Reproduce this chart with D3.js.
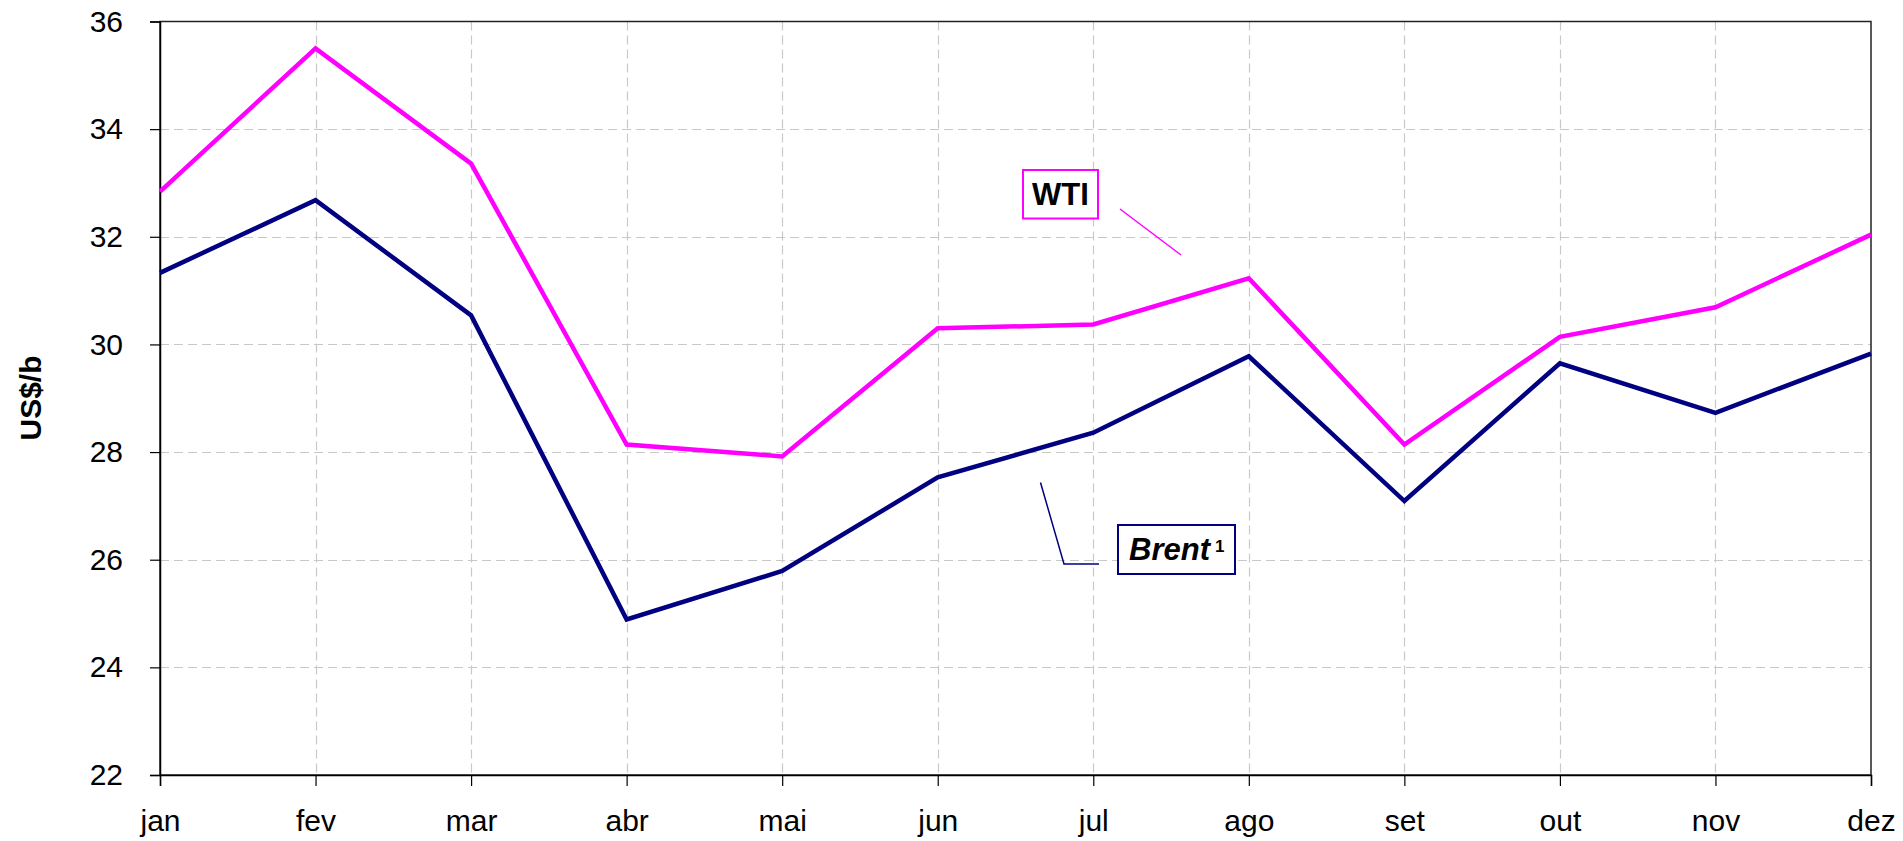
<!DOCTYPE html>
<html>
<head>
<meta charset="utf-8">
<script src="https://cdn.jsdelivr.net/npm/d3@7"></script>
<style>
  html, body { margin: 0; padding: 0; background: #fff; }
  svg { display: block; font-family: "Liberation Sans", Arial, sans-serif; }
</style>
</head>
<body>
<svg id="chart" width="1903" height="841"></svg>
<script>
const months = ["jan","fev","mar","abr","mai","jun","jul","ago","set","out","nov","dez"];
const wti   = [32.84, 35.50, 33.36, 28.14, 27.92, 30.30, 30.37, 31.23, 28.14, 30.14, 30.69, 32.04];
const brent = [31.33, 32.68, 30.54, 24.89, 25.79, 27.53, 28.36, 29.78, 27.09, 29.65, 28.73, 29.83];
const yTicks = [22, 24, 26, 28, 30, 32, 34, 36];
const yLabel = "US$/b";

(function () {
const svg = d3.select("#chart");
const pL = 160, pR = 1871, pT = 21.5, pB = 775;

const x = d3.scalePoint().domain(months).range([pL, pR]);
const y = d3.scaleLinear().domain([22, 36]).range([pB, pT]);

// gridlines
const grid = svg.append("g").attr("stroke", "#c8c8c8").attr("stroke-width", 1.2)
  .attr("stroke-dasharray", "9,5").attr("fill", "none");
grid.selectAll("line.h").data(yTicks.filter(d => d > 22 && d < 36)).enter().append("line")
  .attr("x1", pL).attr("x2", pR)
  .attr("y1", d => Math.round(y(d)) + 0.5).attr("y2", d => Math.round(y(d)) + 0.5);
grid.selectAll("line.v").data(months.slice(1, -1)).enter().append("line")
  .attr("x1", d => Math.round(x(d)) + 0.5).attr("x2", d => Math.round(x(d)) + 0.5)
  .attr("y1", pT).attr("y2", pB);

// frame
svg.append("rect").attr("x", pL).attr("y", pT)
  .attr("width", pR - pL).attr("height", pB - pT)
  .attr("fill", "none").attr("stroke", "#222").attr("stroke-width", 1.5);

// axes
const yAxis = d3.axisLeft(y).tickValues(yTicks).tickSize(10).tickPadding(27);
const gy = svg.append("g").attr("transform", `translate(${pL},0)`).call(yAxis);
gy.select(".domain").attr("stroke", "#000").attr("stroke-width", 1.5);
gy.selectAll(".tick line").attr("stroke", "#000").attr("stroke-width", 1.2);
gy.selectAll(".tick text").attr("font-size", 30).attr("fill", "#000")
  .attr("font-family", "Liberation Sans, Arial, sans-serif");

const xAxis = d3.axisBottom(x).tickSize(11).tickPadding(24);
const gx = svg.append("g").attr("transform", `translate(0,${pB})`).call(xAxis);
gx.select(".domain").attr("stroke", "#000").attr("stroke-width", 1.5);
gx.selectAll(".tick line").attr("stroke", "#000").attr("stroke-width", 1.2);
gx.selectAll(".tick text").attr("font-size", 30).attr("fill", "#000")
  .attr("font-family", "Liberation Sans, Arial, sans-serif");

// y label
svg.append("text")
  .attr("transform", `translate(41,398) rotate(-90)`)
  .attr("text-anchor", "middle")
  .attr("font-size", 30).attr("font-weight", "bold").attr("fill", "#000")
  .text(yLabel);

// lines
const line = d3.line().x((d, i) => x(months[i])).y(d => y(d));
svg.append("path").datum(brent).attr("d", line)
  .attr("fill", "none").attr("stroke", "#000080").attr("stroke-width", 4.5)
  .attr("stroke-linejoin", "miter");
svg.append("path").datum(wti).attr("d", line)
  .attr("fill", "none").attr("stroke", "#FF00FF").attr("stroke-width", 4.5)
  .attr("stroke-linejoin", "miter");

// WTI label
svg.append("line").attr("x1", 1120).attr("y1", 209).attr("x2", 1181).attr("y2", 255)
  .attr("stroke", "#FF00FF").attr("stroke-width", 1.5);
svg.append("rect").attr("x", 1023).attr("y", 170).attr("width", 75).attr("height", 48.5)
  .attr("fill", "#fff").attr("stroke", "#FF00FF").attr("stroke-width", 2);
svg.append("text").attr("x", 1060.5).attr("y", 205).attr("text-anchor", "middle")
  .attr("font-size", 31).attr("font-weight", "bold").attr("fill", "#000").text("WTI");

// Brent label
svg.append("polyline").attr("points", "1040.5,482.5 1064,564 1099,564")
  .attr("fill", "none").attr("stroke", "#000080").attr("stroke-width", 1.5);
svg.append("rect").attr("x", 1118).attr("y", 525).attr("width", 117).attr("height", 49)
  .attr("fill", "#fff").attr("stroke", "#000080").attr("stroke-width", 2);
const bt = svg.append("text").attr("x", 1129).attr("y", 560)
  .attr("font-size", 31).attr("font-weight", "bold").attr("font-style", "italic").attr("fill", "#000");
bt.append("tspan").text("Brent");
bt.append("tspan").attr("font-size", 17).attr("dy", -8).attr("dx", 5).attr("font-style", "normal").text("1");
})();
</script>
</body>
</html>
